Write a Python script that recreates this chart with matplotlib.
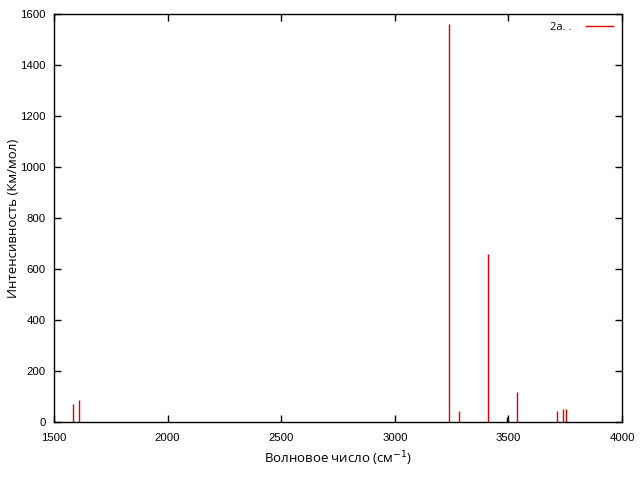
import matplotlib
matplotlib.use("Agg")
import matplotlib.pyplot as plt

plt.rcParams['font.family'] = ['Open Sans', 'DejaVu Sans']

freq_red = [1585, 1611, 3240, 3284, 3412, 3539, 3715, 3742, 3754]
inten_red = [70, 86, 1562, 43, 660, 116, 43, 51, 51]
freq_black = [3495]
inten_black = [20]
legend_label = "2a. ."
xticks = [1500, 2000, 2500, 3000, 3500, 4000]
yticks = [0, 200, 400, 600, 800, 1000, 1200, 1400, 1600]

fig = plt.figure(figsize=(6.4, 4.8), dpi=100)
ax = fig.add_axes([54/640, 58/480, 568/640, 408/480])

ax.vlines(freq_red, 0, inten_red, colors='#e00000', linewidth=1.0, label=legend_label)
ax.vlines(freq_black, 0, inten_black, colors='black', linewidth=1.0)

ax.set_xlim(1500, 4000)
ax.set_ylim(0, 1600)
ax.set_xticks(xticks)
ax.set_yticks(yticks)
ax.tick_params(direction='in', top=True, right=True, length=5, width=1, labelsize=8.2)
ax.tick_params(axis='x', pad=8)
ax.tick_params(axis='y', pad=6)
for lab in ax.get_xticklabels() + ax.get_yticklabels():
    lab.set_fontfamily(['Liberation Sans', 'DejaVu Sans'])
for s in ax.spines.values():
    s.set_linewidth(1)

ax.set_xlabel("Волновое число (см$^{-1}$)", fontsize=9.5)
ax.set_ylabel("Интенсивность (Км/мол)", fontsize=9.5)
ax.xaxis.set_label_coords(0.5, -0.068)
ax.yaxis.set_label_coords(-0.06, 0.5)

leg = ax.legend(loc='upper right', frameon=False, fontsize=8, handlelength=2.6,
                handletextpad=1.2, markerfirst=False, borderaxespad=0.3)

fig.savefig("out.png", dpi=100)
